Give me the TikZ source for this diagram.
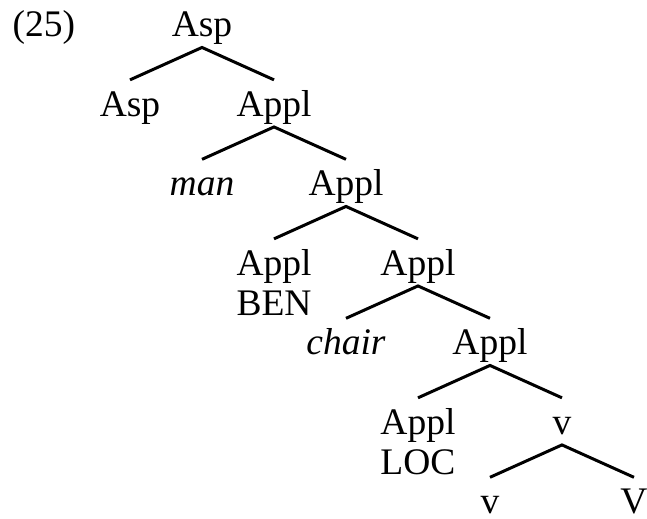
\documentclass[tikz,border=0pt]{standalone}
\usepackage{fontspec}
\setmainfont{Liberation Serif}
\usepackage{tikz}

\begin{document}
\begin{tikzpicture}[x=24bp, y=-26.5bp,
  font=\fontsize{12.5bp}{15bp}\selectfont,
  cat/.style={anchor=base, inner sep=0pt, text height=12bp, text depth=3.3bp},
  feat/.style={anchor=base, inner sep=0pt},
  branch/.style={line width=1pt}]

\useasboundingbox (-0.806,-0.465) rectangle (8.181,6.06);

\node[feat, anchor=base west] (ex) at (-0.64,0) {(25)};

\node[cat] (asp) at (2,0) {Asp};
\node[cat] (asphead) at (1,1) {Asp};
\node[cat] (applA) at (3,1) {Appl};
\node[cat] (man) at (2,2) {\textit{man}};
\node[cat] (applB) at (4,2) {Appl};
\node[cat] (ben) at (3,3) {Appl};
\node[feat] (benlab) at (3,3.5) {BEN};
\node[cat] (applC) at (5,3) {Appl};
\node[cat] (chair) at (4,4) {\textit{chair}};
\node[cat] (applD) at (6,4) {Appl};
\node[cat] (loc) at (5,5) {Appl};
\node[feat] (loclab) at (5,5.5) {LOC};
\node[cat] (vp) at (7,5) {v};
\node[cat] (v) at (6,6) {v};
\node[cat] (V) at (8,6) {V};

\draw [branch] (asphead.north) -- (asp.south) -- (applA.north);
\draw [branch] (man.north) -- (applA.south) -- (applB.north);
\draw [branch] (ben.north) -- (applB.south) -- (applC.north);
\draw [branch] (chair.north) -- (applC.south) -- (applD.north);
\draw [branch] (loc.north) -- (applD.south) -- (vp.north);
\draw [branch] (v.north) -- (vp.south) -- (V.north);

\end{tikzpicture}
\end{document}
